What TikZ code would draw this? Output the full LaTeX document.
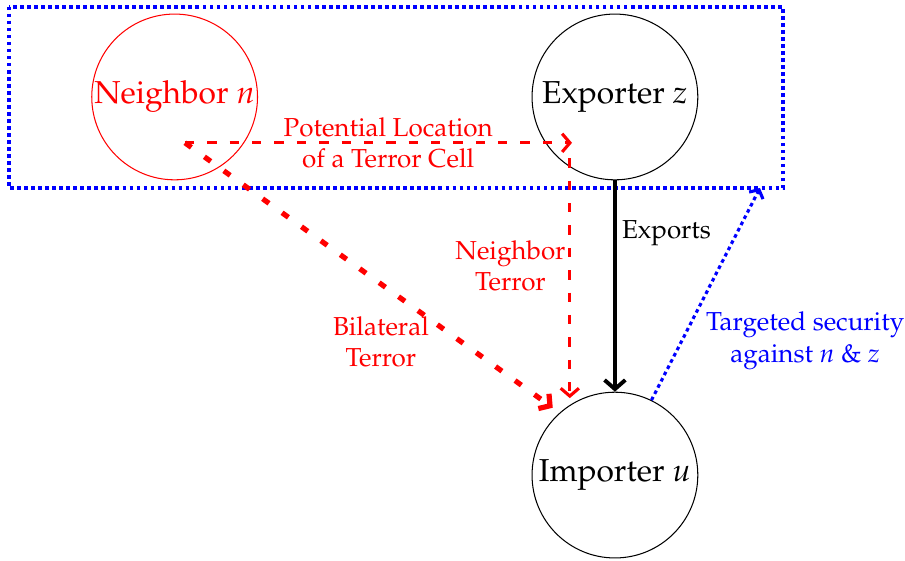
\documentclass[tikz,border=0pt]{standalone}
\usepackage[T1]{fontenc}
\usepackage{mathpazo}
\usepackage{tikz}
\usetikzlibrary{positioning, arrows.meta}

\tikzset{
  country/.style={circle, draw, thin, minimum size=2.24cm, inner sep=0pt, font=\fontsize{12.2}{15}\selectfont},
  terror/.style={red, line width=1.2pt, dash pattern=on 3.6pt off 5pt, -{Straight Barb[length=3pt,width=7pt]}},
  bilateral/.style={terror, line width=2pt, dash pattern=on 3pt off 6.2pt},
  security/.style={blue, line width=1.5pt, dash pattern=on 1.4pt off 1.3pt},
  tag/.style={align=center}
}

\begin{document}
\begin{tikzpicture}
\useasboundingbox (0,0) rectangle (12.23,-7.58);
\node[country, red] (n) at (2.36,-1.31) {Neighbor $n$};
\node[country] (z) at (8.31,-1.31) {Exporter $z$};
\node[country] (u) at (8.31,-6.42) {Importer $u$};
\coordinate (boxtl) at (0.12,-0.09);
\coordinate (boxbr) at (10.58,-2.54);
\coordinate (cell) at (2.50,-1.93);
\coordinate (cellend) at (7.73,-1.93);
\coordinate (droptop) at (7.70,-2.14);
\coordinate (dropend) at (7.70,-5.38);
\coordinate (hit) at (7.47,-5.51);
\coordinate (guard) at (10.27,-2.54);
\draw[security] (boxtl) rectangle (boxbr);
\draw[terror] (cell) -- (cellend) node[tag, pos=0.525] {Potential Location\\of a Terror Cell};
\draw[terror] (droptop) -- (dropend) node[tag, pos=0.45, left=-0.08cm] {Neighbor\\Terror};
\draw[bilateral] (cell) -- (hit) node[tag, pos=0.75, left=0.28cm] {Bilateral\\Terror};
\draw[line width=1.5pt, -{Straight Barb[length=3.5pt,width=8pt]}] (z) -- (u) node[pos=0.25, right=0pt, inner sep=2pt] {Exports};
\draw[security, line width=1.2pt, -{Straight Barb[length=2.5pt,width=6pt]}] (u.64) -- (guard) node[tag, pos=0.28, right=0.19cm] {Targeted security\\against $n$ \& $z$};
\end{tikzpicture}
\end{document}
